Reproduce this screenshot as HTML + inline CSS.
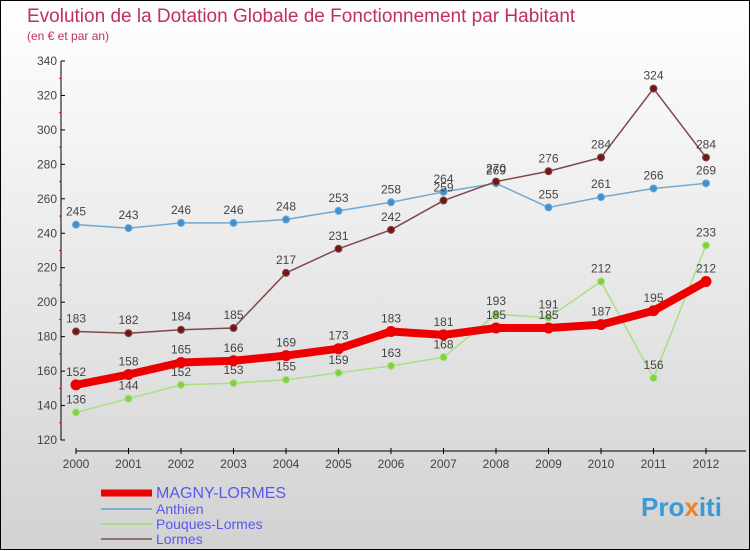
<!DOCTYPE html>
<html><head><meta charset="utf-8"><style>
body{margin:0}
#c{width:748px;height:548px;border:1px solid #000;background:linear-gradient(#fff,#d2d2d2);position:relative;font-family:"Liberation Sans",sans-serif}
svg{position:absolute;left:0;top:0}
</style></head><body>
<div id="c">
<svg id="s" width="750" height="550">
<text x="26" y="21" font-size="19" fill="#c0305a">Evolution de la Dotation Globale de Fonctionnement par Habitant</text>
<text x="26" y="39" font-size="12" fill="#c0305a">(en € et par an)</text>
<text x="640" y="515" font-size="26" font-weight="bold" fill="#3a9ad8">Pro<tspan fill="#f08020">x</tspan>iti</text>
</svg></div>
<script>
const years=[2000,2001,2002,2003,2004,2005,2006,2007,2008,2009,2010,2011,2012];
const magny=[152,158,165,166,169,173,183,181,185,185,187,195,212];
const anthien=[245,243,246,246,248,253,258,264,269,255,261,266,269];
const pouques=[136,144,152,153,155,159,163,168,193,191,212,156,233];
const lormes=[183,182,184,185,217,231,242,259,270,276,284,324,284];
const yTicks=[120,140,160,180,200,220,240,260,280,300,320,340];
const ns="http://www.w3.org/2000/svg",s=document.getElementById('s');
const X=i=>75+i*52.5, Y=v=>439-(v-120)*379/220;
function el(t,a,p){const e=document.createElementNS(ns,t);for(const k in a)e.setAttribute(k,a[k]);(p||s).appendChild(e);return e;}
el('line',{x1:60,y1:60,x2:60,y2:439,stroke:'#000'});
el('line',{x1:75,y1:450,x2:745,y2:450,stroke:'#000'});
yTicks.forEach((v,i)=>{
 const y=Y(v);
 const g=el('line',{x1:60,y1:y,x2:64,y2:y,stroke:'#000'});
 if(i<yTicks.length-1)el('line',{x1:58,y1:y-17.2,x2:60,y2:y-17.2,stroke:'#f00'});
 const t=el('text',{x:56,y:y+4,'font-size':12,fill:'#444','text-anchor':'end'});t.textContent=v;
 
 
});
years.forEach((yr,i)=>{
 el('line',{x1:X(i),y1:447,x2:X(i),y2:453,stroke:'#000'});
 const t=el('text',{x:X(i),y:467,'font-size':12,fill:'#444','text-anchor':'middle'});t.textContent=yr;
 
 
});
function series(d,col,w,dot,r,name){
 const g=el('g',{});
 
 
 el('polyline',{points:d.map((v,i)=>X(i)+','+Y(v)).join(' '),fill:'none',stroke:col,'stroke-width':w,'stroke-linejoin':'round'},g);
 d.forEach((v,i)=>{
  const c=el('circle',{cx:X(i),cy:Y(v),r:r,fill:dot,stroke:col,'stroke-width':1},g);
  
  
  const t=el('text',{x:X(i),y:Y(v)-9,'font-size':12,fill:'#444','text-anchor':'middle'},g);t.textContent=v;
  
  
 });
}
series(pouques,'#a8e080',1.5,'#80d040',3.5,'pouques-lormes');
series(anthien,'#70a8d0',1.5,'#4090d0',3.5,'anthien');
series(lormes,'#804848',1.5,'#701818',3.5,'lormes');
series(magny,'#ee0000',8,'#ee0000',5,'magny-lormes');
const leg=[['MAGNY-LORMES','#ee0000',7,16,497],['Anthien','#80aed0',2,14,513],['Pouques-Lormes','#a8e080',2,14,528],['Lormes','#907070',2,14,543]];
leg.forEach(l=>{
 const g=el('g',{});
 
 
 el('line',{x1:100,y1:l[4]-5,x2:151,y2:l[4]-5,stroke:l[1],'stroke-width':l[2]},g);
 const t=el('text',{x:155,y:l[4],'font-size':l[3],fill:'#5858f0'},g);t.textContent=l[0];
});
</script>
</body></html>
